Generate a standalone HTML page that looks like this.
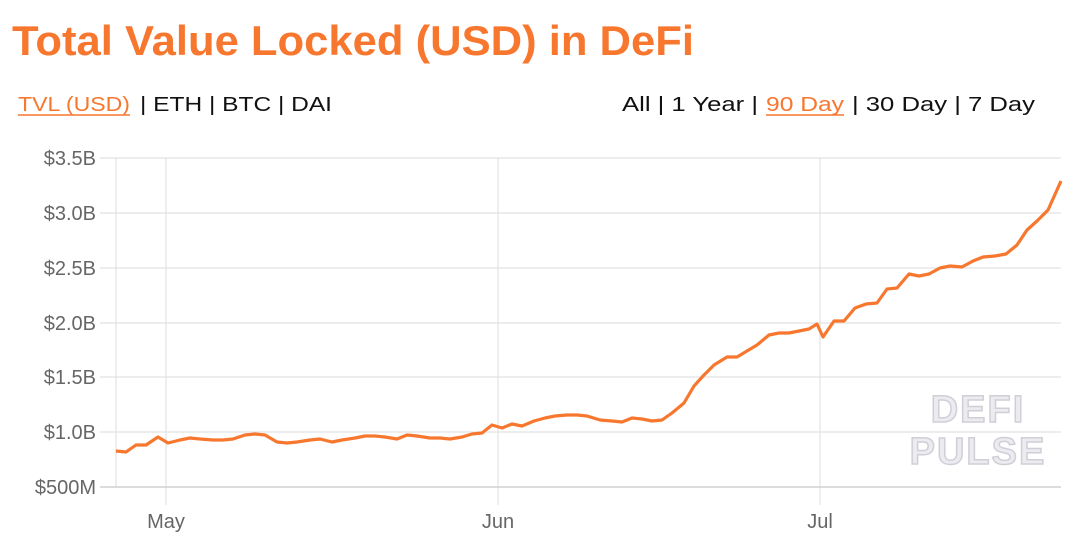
<!DOCTYPE html>
<html><head><meta charset="utf-8"><style>
html,body{margin:0;padding:0;background:#fff;width:1080px;height:547px;overflow:hidden}
svg{display:block}
</style></head><body>
<svg width="1080" height="547" xmlns="http://www.w3.org/2000/svg" font-family="Liberation Sans, sans-serif">
<text x="12" y="55" font-size="42" font-weight="bold" fill="#F7772F" textLength="682" lengthAdjust="spacingAndGlyphs">Total Value Locked (USD) in DeFi</text>
<g font-size="20" fill="#111">
<text x="18" y="111" fill="#F7772F" textLength="112" lengthAdjust="spacingAndGlyphs">TVL (USD)</text>
<line x1="18" y1="115" x2="130" y2="115" stroke="#F7772F" stroke-width="1.5"/>
<text x="140" y="111" textLength="192" lengthAdjust="spacingAndGlyphs">| ETH | BTC | DAI</text>
<text x="622" y="111" textLength="136" lengthAdjust="spacingAndGlyphs">All | 1 Year |</text>
<text x="766" y="111" fill="#F7772F" textLength="78" lengthAdjust="spacingAndGlyphs">90 Day</text>
<line x1="766" y1="115" x2="844" y2="115" stroke="#F7772F" stroke-width="1.5"/>
<text x="852" y="111" textLength="183" lengthAdjust="spacingAndGlyphs">| 30 Day | 7 Day</text>
</g>
<g stroke="#e2e2e2" stroke-width="1.2">
<line x1="100" y1="158" x2="1061" y2="158"/>
<line x1="100" y1="213" x2="1061" y2="213"/>
<line x1="100" y1="268" x2="1061" y2="268"/>
<line x1="100" y1="323" x2="1061" y2="323"/>
<line x1="100" y1="377" x2="1061" y2="377"/>
<line x1="100" y1="432" x2="1061" y2="432"/>
<line x1="166" y1="158" x2="166" y2="505"/>
<line x1="498" y1="158" x2="498" y2="505"/>
<line x1="820" y1="158" x2="820" y2="505"/>
<line x1="116" y1="158" x2="116" y2="487"/>
</g>
<line x1="100" y1="487" x2="1061" y2="487" stroke="#d0d0d0" stroke-width="1.5"/>
<g font-size="20" fill="#666" text-anchor="end">
<text x="96" y="165">$3.5B</text>
<text x="96" y="220">$3.0B</text>
<text x="96" y="275">$2.5B</text>
<text x="96" y="330">$2.0B</text>
<text x="96" y="384">$1.5B</text>
<text x="96" y="439">$1.0B</text>
<text x="96" y="494">$500M</text>
</g>
<g font-size="20" fill="#666" text-anchor="middle">
<text x="166" y="528">May</text>
<text x="498" y="528">Jun</text>
<text x="820" y="528">Jul</text>
</g>
<g font-size="38" font-weight="bold" fill="#ecebf0" stroke="#d0cfd8" stroke-width="1.5" text-anchor="middle" letter-spacing="2">
<text x="978" y="422">DEFI</text>
<text x="978" y="464">PULSE</text>
</g>
<polyline fill="none" stroke="#F7772F" stroke-width="3.2" stroke-linejoin="round" points="116,451 126,452 136,445 146,445 158,437 168,443 180,440 190,438 200,439 213,440 223,440 233,439 245,435 255,434 265,435 277,442 287,443 297,442 310,440 320,439 332,442 342,440 355,438 365,436 375,436 385,437 397,439 407,435 417,436 430,438 440,438 450,439 462,437 472,434 482,433 492,425 502,428 512,424 522,426 534,421 545,418 555,416 567,415 577,415 587,416 600,420 612,421 622,422 632,418 642,419 652,421 662,420 672,413 684,403 694,386 704,375 714,365 727,357 737,357 747,351 757,345 769,335 779,333 789,333 799,331 809,329 817,324 823,337 834,321 844,321 855,308 866,304 877,303 887,289 897,288 909,274 919,276 929,274 940,268 950,266 962,267 973,261 983,257 995,256 1006,254 1017,245 1027,230 1037,221 1048,210 1061,181"/>
</svg>
</body></html>
